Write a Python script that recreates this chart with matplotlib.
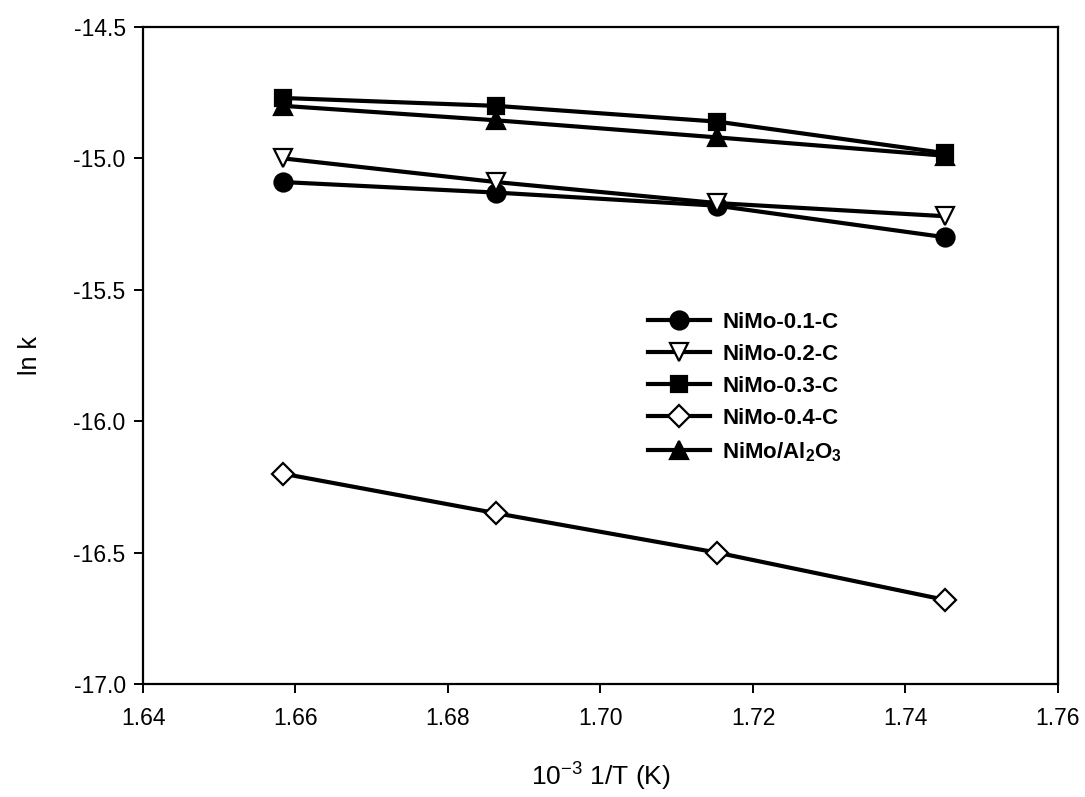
#!/usr/bin/env python3
import matplotlib
matplotlib.use("Agg")
import matplotlib.pyplot as plt

plt.rcParams["font.family"] = ["Liberation Sans", "DejaVu Sans"]
plt.rcParams["mathtext.fontset"] = "custom"
plt.rcParams["mathtext.rm"] = "Liberation Sans"
plt.rcParams["mathtext.bf"] = "Liberation Sans:bold"

# 1000/T for T = 603, 593, 583, 573 K
inv_t = [1.6584, 1.6863, 1.7153, 1.7452]

lnk_01 = [-15.09, -15.13, -15.18, -15.30]
lnk_02 = [-15.00, -15.09, -15.17, -15.22]
lnk_03 = [-14.77, -14.80, -14.86, -14.98]
lnk_04 = [-16.20, -16.35, -16.50, -16.68]
lnk_al = [-14.80, -14.855, -14.92, -14.99]

labels = ["NiMo-0.1-C", "NiMo-0.2-C", "NiMo-0.3-C", "NiMo-0.4-C",
          r"NiMo/Al$_\mathbf{2}$O$_\mathbf{3}$"]

x_ticks = [1.64, 1.66, 1.68, 1.70, 1.72, 1.74, 1.76]
y_ticks = [-17.0, -16.5, -16.0, -15.5, -15.0, -14.5]

fig = plt.figure(figsize=(10.85, 7.97), dpi=100)
ax = fig.add_axes([0.1318, 0.1418, 0.8433, 0.8243])

series = [
    (lnk_01, "o", "black", 13),
    (lnk_02, "v", "white", 13),
    (lnk_03, "s", "black", 12),
    (lnk_04, "D", "white", 11),
    (lnk_al, "^", "black", 13),
]
for (ys, mk, fc, ms), lab in zip(series, labels):
    ax.plot(inv_t, ys, color="black", linewidth=3.0, marker=mk, markersize=ms,
            markerfacecolor=fc, markeredgecolor="black", markeredgewidth=1.6,
            label=lab)

ax.set_xlim(1.64, 1.76)
ax.set_ylim(-17.0, -14.5)
ax.set_xticks(x_ticks)
ax.set_xticklabels([f"{v:.2f}" for v in x_ticks])
ax.set_yticks(y_ticks)
ax.set_yticklabels([f"{v:.1f}" for v in y_ticks])
ax.tick_params(direction="out", length=6.5, width=1.4)
ax.tick_params(axis="y", labelsize=16.5, pad=6)
ax.tick_params(axis="x", labelsize=16.5, pad=10)
for s in ax.spines.values():
    s.set_linewidth(1.6)

ax.set_xlabel(r"10$^{-3}$ 1/T (K)", fontsize=19)
ax.xaxis.set_label_coords(0.5, -0.115)
ax.set_ylabel("ln k", fontsize=18)
ax.yaxis.set_label_coords(-0.11, 0.5)

leg = ax.legend(loc="upper left", bbox_to_anchor=(0.53, 0.597), frameon=False,
                prop={"weight": "bold", "size": 16}, handlelength=2.8,
                handletextpad=0.55, labelspacing=0.5)

fig.savefig("out.png", dpi=100)
